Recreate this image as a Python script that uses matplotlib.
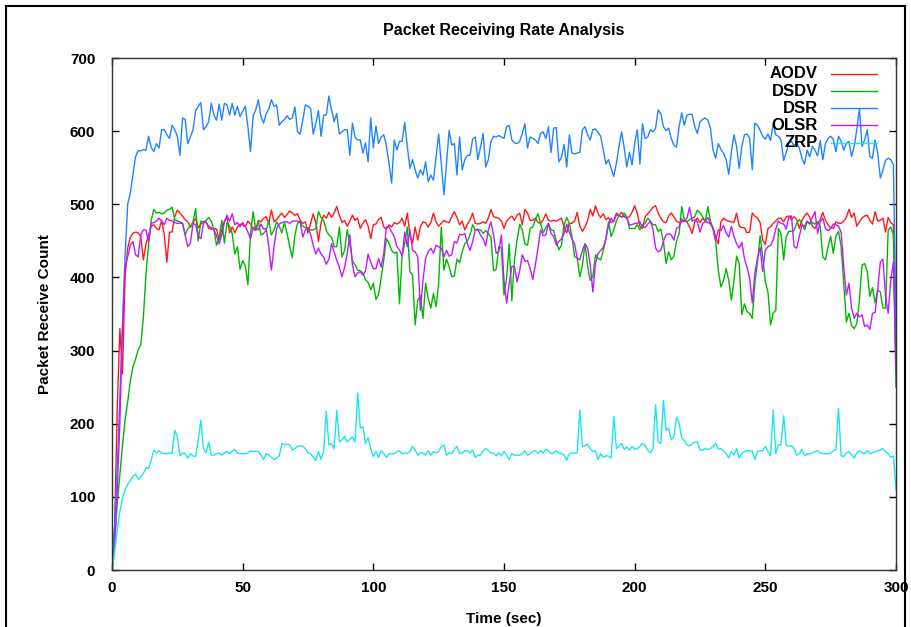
import matplotlib
matplotlib.use("Agg")
from matplotlib import pyplot as plt
from matplotlib.patches import Rectangle
import numpy as np

plt.rcParams['font.family'] = ['Liberation Sans', 'DejaVu Sans']
plt.rcParams['font.weight'] = 'bold'

# time axis, one sample per second
time = np.arange(0, 301)

aodv = [0, 60, 220, 330, 268, 400, 440, 455, 460, 462,
        461, 456, 424, 446, 458, 470, 472, 467, 465, 478,
        458, 421, 462, 462, 483, 492, 488, 484, 479, 476,
        469, 475, 481, 468, 473, 475, 476, 467, 466, 467,
        466, 451, 465, 477, 482, 461, 469, 461, 469, 473,
        472, 469, 477, 473, 467, 464, 478, 476, 481, 483,
        474, 492, 476, 479, 484, 488, 482, 486, 491, 488,
        485, 487, 478, 474, 476, 461, 474, 487, 475, 449,
        475, 485, 481, 489, 482, 488, 497, 485, 475, 478,
        470, 477, 485, 478, 481, 467, 474, 479, 470, 453,
        472, 473, 479, 482, 469, 466, 472, 469, 475, 473,
        475, 481, 470, 488, 458, 447, 469, 451, 469, 476,
        475, 469, 475, 488, 476, 470, 474, 478, 476, 475,
        483, 490, 482, 472, 477, 465, 473, 478, 488, 474,
        473, 474, 476, 474, 481, 493, 483, 482, 481, 477,
        467, 477, 481, 484, 478, 485, 488, 472, 493, 488,
        478, 478, 481, 475, 474, 479, 487, 478, 477, 478,
        477, 479, 481, 469, 461, 474, 474, 477, 489, 470,
        463, 469, 478, 493, 484, 498, 487, 482, 487, 479,
        482, 475, 477, 488, 485, 489, 484, 481, 483, 489,
        498, 488, 470, 467, 483, 487, 491, 496, 498, 488,
        481, 476, 475, 484, 488, 483, 477, 475, 476, 478,
        476, 469, 460, 476, 481, 475, 481, 477, 475, 473,
        468, 455, 446, 476, 481, 478, 477, 476, 475, 488,
        470, 468, 468, 461, 462, 488, 484, 481, 475, 451,
        445, 467, 469, 474, 477, 481, 481, 476, 483, 484,
        479, 483, 479, 467, 478, 484, 488, 482, 470, 467,
        474, 479, 489, 478, 472, 468, 467, 476, 474, 474,
        477, 482, 493, 482, 488, 470, 476, 481, 484, 485,
        478, 473, 490, 477, 478, 481, 462, 482, 475, 472,
        280]

dsdv = [0, 40, 90, 130, 170, 205, 230, 258, 278, 288,
        301, 308, 345, 405, 445, 478, 493, 488, 489, 487,
        488, 492, 493, 496, 479, 477, 476, 474, 458, 467,
        469, 476, 494, 450, 477, 476, 478, 482, 477, 465,
        444, 453, 478, 447, 475, 470, 460, 432, 442, 411,
        423, 416, 390, 460, 490, 465, 477, 458, 460, 465,
        477, 458, 465, 476, 470, 461, 475, 460, 442, 427,
        458, 474, 476, 470, 468, 466, 465, 465, 467, 490,
        482, 478, 464, 458, 455, 442, 442, 469, 428, 437,
        465, 446, 423, 417, 410, 409, 406, 397, 393, 383,
        392, 370, 377, 399, 424, 453, 447, 437, 433, 435,
        364, 429, 446, 469, 408, 403, 335, 369, 375, 344,
        392, 371, 358, 378, 360, 392, 469, 410, 425, 415,
        401, 402, 425, 420, 435, 446, 450, 458, 472, 465,
        465, 465, 460, 464, 460, 455, 409, 411, 442, 440,
        376, 399, 446, 368, 424, 451, 473, 465, 446, 444,
        467, 469, 479, 487, 474, 461, 468, 474, 465, 464,
        449, 438, 444, 472, 482, 474, 456, 428, 427, 401,
        417, 446, 415, 396, 401, 431, 426, 424, 437, 453,
        476, 456, 465, 477, 485, 482, 488, 483, 467, 467,
        467, 472, 465, 472, 474, 481, 477, 472, 472, 463,
        466, 449, 419, 435, 424, 429, 449, 460, 497, 479,
        476, 479, 481, 483, 492, 488, 483, 476, 497, 477,
        467, 449, 410, 387, 396, 412, 396, 369, 396, 429,
        419, 349, 364, 353, 351, 344, 392, 421, 457, 428,
        394, 380, 335, 351, 355, 467, 460, 424, 456, 463,
        463, 464, 474, 479, 474, 465, 476, 473, 475, 473,
        476, 470, 428, 424, 442, 456, 433, 456, 463, 442,
        392, 339, 351, 334, 330, 337, 369, 417, 419, 408,
        374, 386, 365, 383, 380, 358, 358, 465, 469, 458,
        250]

dsr = [0, 60, 140, 237, 330, 430, 500, 515, 540, 565,
       573, 573, 575, 574, 593, 578, 572, 583, 577, 602,
       602, 595, 590, 608, 602, 593, 567, 618, 616, 583,
       592, 602, 628, 634, 639, 602, 606, 613, 638, 622,
       615, 637, 615, 638, 636, 622, 638, 622, 634, 620,
       627, 634, 606, 572, 621, 629, 643, 620, 611, 624,
       630, 643, 634, 636, 608, 613, 616, 621, 616, 618,
       633, 599, 596, 615, 636, 634, 631, 596, 611, 628,
       593, 622, 622, 648, 629, 613, 624, 596, 599, 602,
       602, 567, 611, 592, 588, 588, 570, 584, 558, 618,
       577, 607, 583, 592, 595, 580, 556, 529, 588, 574,
       586, 586, 612, 579, 549, 561, 547, 536, 547, 540,
       558, 531, 540, 533, 565, 596, 556, 513, 556, 601,
       581, 583, 540, 592, 547, 561, 567, 567, 589, 592,
       561, 578, 597, 551, 561, 586, 593, 592, 594, 592,
       590, 606, 608, 588, 584, 583, 586, 597, 610, 577,
       592, 590, 588, 583, 597, 599, 590, 606, 571, 604,
       605, 558, 564, 582, 551, 595, 570, 569, 570, 571,
       602, 606, 595, 588, 602, 603, 598, 593, 574, 555,
       561, 549, 538, 556, 579, 599, 577, 551, 571, 554,
       583, 602, 555, 610, 590, 592, 602, 599, 604, 629,
       624, 606, 601, 604, 590, 581, 578, 606, 625, 608,
       622, 623, 623, 606, 597, 613, 616, 618, 615, 604,
       574, 563, 583, 575, 570, 561, 541, 572, 595, 579,
       549, 579, 595, 596, 590, 547, 611, 608, 601, 593,
       589, 596, 587, 610, 595, 593, 588, 560, 571, 584,
       586, 580, 584, 577, 563, 555, 574, 565, 579, 574,
       566, 587, 561, 583, 590, 593, 589, 572, 593, 586,
       574, 583, 586, 565, 579, 602, 631, 579, 588, 602,
       565, 563, 588, 570, 536, 547, 560, 563, 561, 554,
       330]

olsr = [0, 30, 110, 200, 330, 415, 428, 444, 449, 431,
        428, 458, 465, 465, 449, 474, 475, 477, 481, 477,
        472, 481, 478, 477, 475, 474, 474, 474, 458, 442,
        447, 474, 472, 456, 453, 474, 476, 470, 468, 465,
        457, 446, 458, 475, 485, 477, 487, 472, 475, 469,
        475, 470, 462, 453, 467, 469, 465, 473, 466, 467,
        442, 410, 442, 467, 473, 475, 476, 476, 474, 477,
        477, 477, 476, 455, 465, 468, 459, 444, 432, 440,
        432, 428, 418, 425, 446, 435, 423, 414, 401, 414,
        433, 458, 417, 401, 406, 408, 403, 409, 432, 421,
        412, 412, 426, 414, 433, 469, 469, 462, 456, 442,
        438, 429, 462, 442, 465, 437, 435, 428, 355, 396,
        426, 435, 440, 433, 444, 442, 440, 428, 437, 429,
        431, 449, 447, 459, 458, 460, 446, 437, 449, 465,
        466, 458, 453, 443, 465, 476, 458, 433, 435, 458,
        396, 365, 392, 415, 415, 394, 409, 431, 422, 423,
        412, 397, 417, 440, 465, 457, 458, 474, 460, 456,
        444, 449, 453, 460, 473, 462, 453, 446, 426, 424,
        437, 446, 440, 417, 380, 419, 433, 437, 441, 453,
        472, 481, 476, 486, 484, 483, 483, 481, 472, 472,
        474, 474, 476, 469, 468, 473, 477, 466, 440, 435,
        437, 449, 458, 460, 458, 451, 467, 469, 480, 476,
        481, 496, 477, 479, 476, 462, 474, 476, 482, 474,
        466, 450, 465, 464, 471, 461, 455, 470, 456, 446,
        440, 448, 426, 414, 399, 365, 406, 426, 441, 408,
        437, 442, 444, 451, 466, 477, 474, 473, 466, 483,
        484, 442, 440, 456, 472, 470, 477, 474, 482, 490,
        460, 476, 481, 467, 464, 467, 473, 472, 470, 462,
        415, 376, 392, 358, 344, 351, 346, 349, 333, 335,
        329, 351, 352, 383, 421, 425, 374, 351, 396, 421,
        270]

zrp = [0, 25, 55, 80, 98, 110, 117, 122, 128, 131,
       124, 127, 132, 140, 139, 150, 164, 160, 163, 160,
       159, 159, 160, 159, 191, 182, 156, 160, 159, 153,
       159, 156, 155, 178, 205, 166, 160, 175, 157, 157,
       159, 160, 157, 160, 162, 159, 162, 165, 160, 159,
       159, 159, 160, 163, 162, 162, 162, 157, 151, 159,
       157, 154, 151, 153, 156, 173, 171, 172, 171, 164,
       166, 169, 170, 169, 166, 160, 159, 154, 150, 162,
       151, 162, 217, 171, 173, 166, 218, 175, 178, 183,
       175, 179, 182, 175, 242, 194, 196, 173, 181, 166,
       155, 162, 154, 163, 159, 154, 159, 159, 159, 162,
       163, 159, 160, 159, 162, 169, 164, 157, 160, 160,
       157, 163, 157, 162, 160, 162, 169, 171, 157, 160,
       159, 165, 169, 159, 160, 163, 163, 160, 164, 154,
       157, 157, 163, 166, 163, 160, 160, 156, 160, 156,
       162, 157, 151, 159, 157, 157, 157, 159, 163, 157,
       159, 163, 163, 159, 163, 160, 165, 163, 159, 160,
       163, 160, 159, 157, 150, 159, 160, 160, 160, 219,
       169, 170, 172, 166, 162, 163, 151, 159, 154, 156,
       156, 153, 210, 166, 169, 173, 165, 168, 164, 169,
       165, 166, 169, 173, 170, 164, 160, 166, 226, 175,
       173, 232, 191, 194, 178, 182, 209, 201, 180, 177,
       171, 170, 172, 175, 175, 164, 164, 166, 165, 166,
       169, 173, 165, 166, 163, 159, 153, 162, 157, 166,
       153, 159, 162, 163, 163, 162, 151, 162, 163, 163,
       169, 162, 156, 219, 159, 171, 171, 211, 171, 169,
       170, 166, 157, 159, 165, 156, 159, 159, 160, 162,
       163, 160, 159, 159, 159, 160, 163, 165, 221, 156,
       155, 160, 162, 157, 153, 160, 163, 160, 159, 163,
       159, 160, 162, 163, 164, 166, 162, 159, 154, 156,
       110]

names = ["AODV", "DSDV", "DSR", "OLSR", "ZRP"]
series = [aodv, dsdv, dsr, olsr, zrp]
colors = ["#ff1a1a", "#00b800", "#1f84ff", "#c21aff", "#1ae8e8"]

fig = plt.figure(figsize=(9.12, 6.27), dpi=100)
ax = fig.add_axes([112/912, 57/627, 784/912, 512/627])

for name, vals, c in zip(names, series, colors):
    ax.plot(time, vals, color=c, lw=1.0, label=name)

ax.set_xlim(0, 300)
ax.set_ylim(0, 700)
ax.set_xticks(np.arange(0, 301, 50))
ax.set_yticks(np.arange(0, 701, 100))
ax.tick_params(direction='in', length=5, width=1, top=True, right=True,
               labelsize=11)
ax.tick_params(axis='y', pad=12)
ax.tick_params(axis='x', pad=8)
for lab in ax.get_xticklabels() + ax.get_yticklabels():
    lab.set_fontweight('bold')
for s in ax.spines.values():
    s.set_linewidth(1.0)
    s.set_color('#333333')

ax.set_xlabel("Time (sec)", fontsize=11, fontweight='bold')
ax.set_ylabel("Packet Receive Count", fontsize=11, fontweight='bold')
ax.xaxis.set_label_coords(0.5, -0.083)
ax.yaxis.set_label_coords(-0.077, 0.5)
fig.text(504/912, 1 - 31/627, "Packet Receiving Rate Analysis",
         ha='center', va='center', fontsize=11.5, fontweight='bold')

# key, gnuplot style: label right-aligned, sample line to the right
key_y = [0.9688, 0.9355, 0.9023, 0.8691, 0.8340]
for name, c, yk in zip(names, colors, key_y):
    ax.text(0.9005, yk, name, transform=ax.transAxes, ha='right', va='center',
            fontsize=12, fontweight='bold')
    ax.plot([0.917, 0.976], [yk, yk], transform=ax.transAxes, color=c, lw=1.0)

# outer frame
fig.patches.append(Rectangle((6/912, -0.02), 899/912, 1.02 - 6/627,
                             transform=fig.transFigure, fill=False,
                             edgecolor='black', lw=1.5))

fig.savefig("out.png", dpi=100)
